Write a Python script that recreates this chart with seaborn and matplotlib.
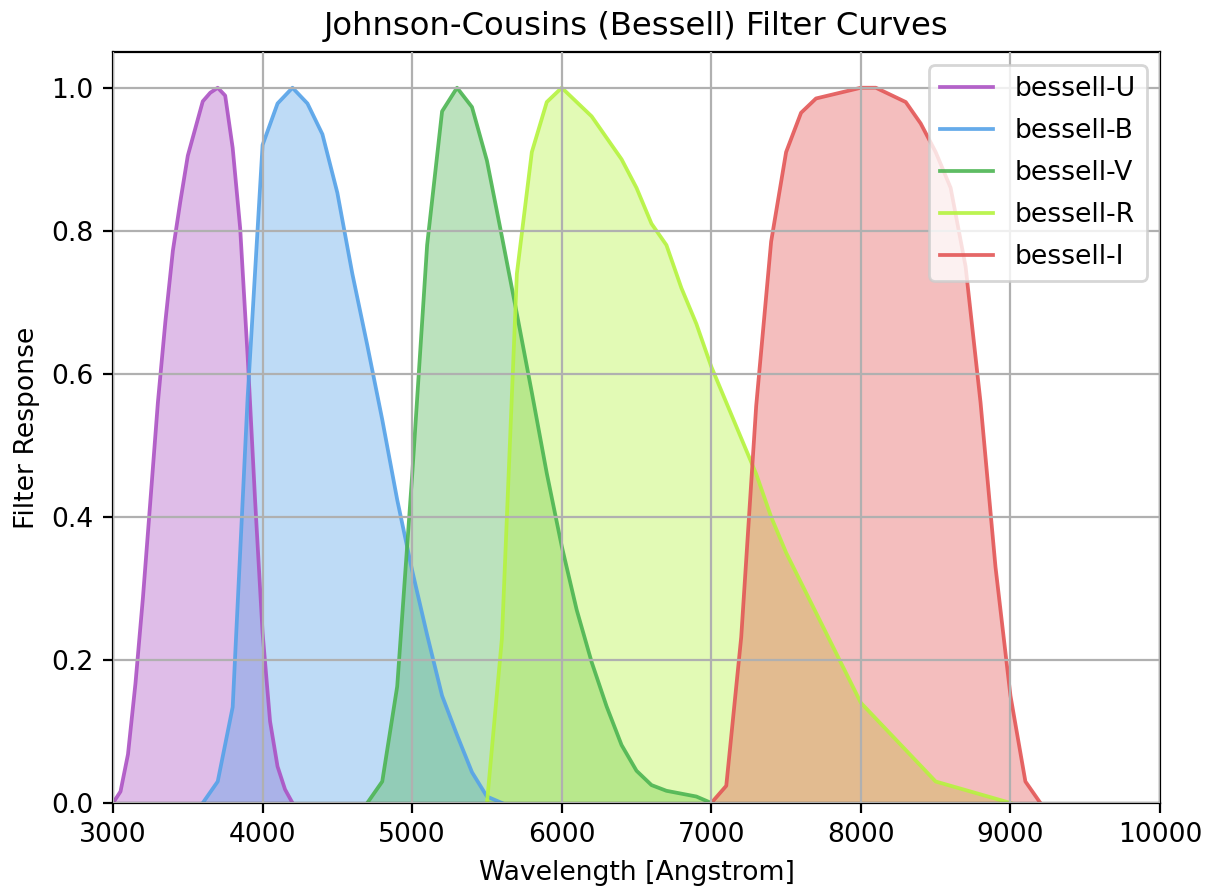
import numpy as np
import pandas as pd
import matplotlib
matplotlib.use("Agg")
import matplotlib.pyplot as plt
import seaborn as sns

band_names = ["bessell-U", "bessell-B", "bessell-V", "bessell-R", "bessell-I"]
band_colors = ["#ac52c4", "#55a2e8", "#4cb552", "#b5f33e", "#e35656"]

u_wave = [3000, 3050, 3100, 3150, 3200, 3250, 3300, 3350, 3400, 3450, 3500, 3550, 3600,
          3650, 3700, 3750, 3800, 3850, 3900, 3950, 4000, 4050, 4100, 4150, 4200]
u_resp = [0.000, 0.016, 0.068, 0.167, 0.287, 0.423, 0.560, 0.673, 0.772, 0.841, 0.905,
          0.943, 0.981, 0.993, 1.000, 0.989, 0.916, 0.804, 0.625, 0.423, 0.238, 0.114,
          0.051, 0.019, 0.000]

b_wave = [3600, 3700, 3800, 3900, 4000, 4100, 4200, 4300, 4400, 4500, 4600, 4700, 4800,
          4900, 5000, 5100, 5200, 5300, 5400, 5500, 5600]
b_resp = [0.000, 0.030, 0.134, 0.567, 0.920, 0.978, 1.000, 0.978, 0.935, 0.853, 0.740,
          0.640, 0.536, 0.424, 0.325, 0.235, 0.150, 0.095, 0.043, 0.009, 0.000]

v_wave = [4700, 4800, 4900, 5000, 5100, 5200, 5300, 5400, 5500, 5600, 5700, 5800, 5900,
          6000, 6100, 6200, 6300, 6400, 6500, 6600, 6700, 6800, 6900, 7000]
v_resp = [0.000, 0.030, 0.163, 0.458, 0.780, 0.967, 1.000, 0.973, 0.898, 0.792, 0.684,
          0.574, 0.461, 0.359, 0.270, 0.197, 0.135, 0.081, 0.045, 0.025, 0.017, 0.013,
          0.009, 0.000]

r_wave = [5500, 5600, 5700, 5800, 5900, 6000, 6100, 6200, 6300, 6400, 6500, 6600, 6700,
          6800, 6900, 7000, 7100, 7200, 7300, 7400, 7500, 8000, 8500, 9000]
r_resp = [0.00, 0.23, 0.74, 0.91, 0.98, 1.00, 0.98, 0.96, 0.93, 0.90, 0.86, 0.81, 0.78,
          0.72, 0.67, 0.61, 0.56, 0.51, 0.46, 0.40, 0.35, 0.14, 0.03, 0.00]

i_wave = [7000, 7100, 7200, 7300, 7400, 7500, 7600, 7700, 7800, 7900, 8000, 8100, 8200,
          8300, 8400, 8500, 8600, 8700, 8800, 8900, 9000, 9100, 9200]
i_resp = [0.000, 0.024, 0.232, 0.555, 0.785, 0.910, 0.965, 0.985, 0.990, 0.995, 1.000,
          1.000, 0.990, 0.980, 0.950, 0.910, 0.860, 0.750, 0.560, 0.330, 0.150, 0.030,
          0.000]

waves = [u_wave, b_wave, v_wave, r_wave, i_wave]
resps = [u_resp, b_resp, v_resp, r_resp, i_resp]

plt.rcParams["font.size"] = 9.6

fig = plt.figure(figsize=(6.05, 4.45), dpi=200)
ax = fig.add_axes([0.0934, 0.0978, 0.8653, 0.8438])

for name, color, w, r in zip(band_names, band_colors, waves, resps):
    df = pd.DataFrame({"wave": w, "resp": r})
    sns.lineplot(data=df, x="wave", y="resp", ax=ax, color=color, label=name,
                 linewidth=1.35, alpha=0.9)
    ax.fill_between(df["wave"], df["resp"], color=color, alpha=0.38, linewidth=0)

ax.set_xlim(3000, 10000)
ax.set_ylim(0, 1.05)
ax.set_yticks([0.0, 0.2, 0.4, 0.6, 0.8, 1.0])
ax.grid(True, color="#b0b0b0", linewidth=0.8)
ax.set_axisbelow(False)
ax.set_xlabel("Wavelength [Angstrom]")
ax.set_ylabel("Filter Response")
ax.set_title("Johnson-Cousins (Bessell) Filter Curves", fontsize=11.6)
ax.legend(loc="upper right", labelspacing=0.6)

fig.savefig("out.png", dpi=200)
